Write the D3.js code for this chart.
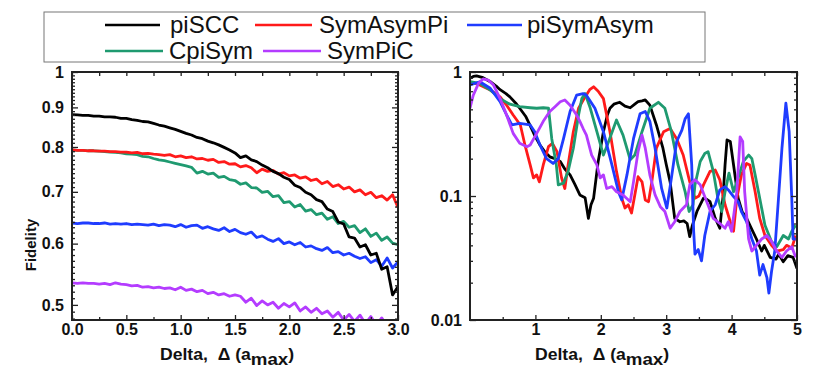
<!DOCTYPE html>
<html><head><meta charset="utf-8">
<script src="https://cdn.jsdelivr.net/npm/d3@7"></script>
<style>
body{margin:0;background:#fff;}
svg{display:block;font-family:"Liberation Sans",Arial,sans-serif;}
.tick text{font-weight:bold;font-size:16px;fill:#111;}
</style>
</head><body><svg id="c" width="817" height="382"></svg>
<script>
// ---------- data ----------
const seriesNames  = ["piSCC","SymAsymPi","piSymAsym","CpiSym","SymPiC"];
const seriesColors = ["#000000","#ff1a1a","#1f3cff","#1f9a70","#b43cff"];

// left panel: Fidelity vs Delta (0..3, step 0.05)
const leftDelta = d3.range(0, 3.0001, 0.05);
const leftPiSCC = [.881,.880,.879,.879,.877,.877,.875,.875,.874,.871,.871,.868,.866,.863,.862,.858,.854,.851,.847,.843,
  .838,.833,.829,.823,.820,.814,.810,.805,.799,.793,.786,.775,.779,.770,.766,.758,.752,.744,.739,.731,
  .726,.714,.709,.699,.694,.684,.680,.665,.660,.640,.636,.612,.610,.594,.598,.580,.583,.556,.560,.515,.528];
const leftSymAsymPi = [.793,.792,.792,.791,.791,.790,.790,.789,.789,.788,.788,.786,.787,.784,.785,.783,.782,.780,.782,.777,
  .779,.775,.777,.772,.773,.769,.771,.764,.766,.760,.761,.754,.757,.752,.741,.749,.744,.746,.738,.741,
  .734,.736,.729,.732,.724,.727,.717,.722,.711,.715,.706,.710,.700,.704,.694,.699,.688,.692,.683,.694,.668];
const leftPiSymAsym = [.638,.637,.638,.638,.637,.637,.638,.636,.637,.636,.637,.635,.636,.635,.634,.636,.633,.635,.634,.631,
  .635,.630,.633,.634,.628,.631,.627,.624,.629,.622,.626,.620,.617,.621,.611,.614,.608,.604,.609,.600,
  .603,.598,.602,.594,.596,.591,.588,.593,.584,.586,.580,.583,.578,.574,.577,.567,.572,.561,.575,.558,.568];
const leftCpiSym = [.793,.792,.792,.791,.791,.790,.789,.788,.787,.786,.784,.783,.782,.778,.777,.773,.770,.768,.765,.762,
  .759,.756,.753,.740,.744,.738,.740,.731,.733,.726,.724,.716,.719,.709,.708,.699,.701,.690,.692,.678,
  .680,.669,.674,.661,.664,.654,.657,.645,.650,.637,.641,.630,.633,.620,.627,.613,.619,.606,.612,.601,.598];
const leftSymPiC = [.534,.533,.534,.533,.533,.532,.533,.531,.534,.532,.531,.529,.530,.527,.528,.526,.527,.525,.526,.523,
  .527,.522,.524,.520,.522,.517,.519,.515,.517,.513,.515,.513,.504,.510,.499,.506,.500,.504,.495,.502,
  .497,.503,.491,.497,.489,.495,.487,.491,.482,.489,.478,.486,.476,.485,.473,.483,.471,.481,.470];

// right panel: [Delta, Fidelity] read points
const rightPiSCC = [[0,0.89],[0.05,0.92],[0.1,0.93],[0.2,0.9],[0.31,0.835],[0.4,0.77],[0.46,0.72],[0.55,0.67],[0.61,0.63],[0.7,0.56],[0.76,0.51],[0.85,0.44],[0.92,0.37],[1.0,0.3],[1.07,0.258],[1.15,0.225],[1.22,0.207],[1.3,0.2],[1.38,0.19],[1.45,0.165],[1.53,0.148],[1.6,0.125],[1.68,0.102],[1.76,0.097],[1.81,0.066],[1.85,0.085],[1.89,0.096],[1.96,0.19],[2.04,0.33],[2.1,0.45],[2.14,0.51],[2.2,0.55],[2.29,0.57],[2.37,0.53],[2.45,0.515],[2.52,0.55],[2.57,0.576],[2.63,0.585],[2.68,0.595],[2.75,0.54],[2.85,0.374],[2.95,0.243],[3.0,0.18],[3.06,0.13],[3.13,0.066],[3.21,0.062],[3.27,0.063],[3.32,0.06],[3.36,0.047],[3.4,0.058],[3.47,0.075],[3.57,0.096],[3.62,0.094],[3.67,0.09],[3.75,0.066],[3.82,0.055],[3.87,0.1],[3.9,0.178],[3.93,0.283],[3.98,0.275],[4.03,0.178],[4.1,0.096],[4.16,0.075],[4.23,0.066],[4.3,0.055],[4.38,0.045],[4.46,0.036],[4.5,0.04],[4.59,0.032],[4.68,0.031],[4.72,0.034],[4.79,0.0295],[4.86,0.033],[4.94,0.032],[5.0,0.026]];
const rightSymAsymPi = [[0,0.835],[0.15,0.785],[0.31,0.716],[0.46,0.63],[0.56,0.54],[0.66,0.45],[0.77,0.374],[0.84,0.258],[0.92,0.178],[0.97,0.14],[1.02,0.148],[1.06,0.13],[1.12,0.178],[1.2,0.25],[1.26,0.266],[1.33,0.228],[1.4,0.14],[1.45,0.115],[1.5,0.178],[1.58,0.33],[1.66,0.51],[1.76,0.63],[1.83,0.72],[1.89,0.76],[1.96,0.7],[2.04,0.61],[2.14,0.33],[2.24,0.158],[2.32,0.096],[2.37,0.08],[2.42,0.085],[2.47,0.073],[2.52,0.102],[2.57,0.143],[2.63,0.13],[2.68,0.093],[2.73,0.09],[2.78,0.13],[2.85,0.243],[2.96,0.33],[3.06,0.35],[3.16,0.29],[3.26,0.214],[3.36,0.13],[3.44,0.096],[3.5,0.1],[3.57,0.123],[3.67,0.158],[3.75,0.162],[3.82,0.135],[3.9,0.085],[3.98,0.062],[4.03,0.052],[4.08,0.096],[4.15,0.148],[4.23,0.183],[4.28,0.178],[4.36,0.108],[4.43,0.066],[4.51,0.048],[4.61,0.04],[4.69,0.036],[4.79,0.037],[4.84,0.04],[4.92,0.038],[4.98,0.048]];
const rightPiSymAsym = [[0,0.785],[0.15,0.835],[0.31,0.74],[0.46,0.576],[0.56,0.45],[0.64,0.374],[0.76,0.385],[0.92,0.374],[0.99,0.33],[1.07,0.258],[1.17,0.2],[1.27,0.183],[1.35,0.2],[1.43,0.29],[1.53,0.48],[1.63,0.65],[1.73,0.67],[1.78,0.65],[1.91,0.51],[2.04,0.33],[2.17,0.178],[2.27,0.108],[2.32,0.093],[2.4,0.148],[2.5,0.29],[2.6,0.46],[2.68,0.48],[2.75,0.4],[2.83,0.243],[2.93,0.115],[3.01,0.08],[3.08,0.14],[3.16,0.275],[3.24,0.34],[3.29,0.42],[3.34,0.46],[3.39,0.178],[3.42,0.052],[3.44,0.034],[3.49,0.037],[3.54,0.03],[3.59,0.048],[3.67,0.075],[3.75,0.085],[3.82,0.112],[3.9,0.119],[3.95,0.112],[4.03,0.099],[4.1,0.09],[4.15,0.075],[4.23,0.062],[4.31,0.045],[4.38,0.036],[4.43,0.023],[4.48,0.028],[4.54,0.022],[4.57,0.0165],[4.61,0.0245],[4.66,0.036],[4.71,0.085],[4.77,0.243],[4.83,0.56],[4.88,0.33],[4.92,0.096],[4.94,0.045],[4.98,0.045]];
const rightCpiSym = [[0,0.835],[0.15,0.81],[0.31,0.716],[0.46,0.61],[0.61,0.55],[0.76,0.525],[0.92,0.515],[1.02,0.51],[1.12,0.515],[1.2,0.51],[1.25,0.29],[1.32,0.178],[1.35,0.123],[1.43,0.127],[1.5,0.158],[1.58,0.243],[1.66,0.45],[1.71,0.61],[1.76,0.67],[1.84,0.51],[1.94,0.33],[2.04,0.214],[2.12,0.275],[2.24,0.41],[2.34,0.31],[2.45,0.196],[2.52,0.214],[2.63,0.33],[2.75,0.51],[2.88,0.57],[2.98,0.51],[3.08,0.33],[3.18,0.178],[3.29,0.108],[3.35,0.075],[3.41,0.085],[3.44,0.123],[3.52,0.19],[3.59,0.22],[3.64,0.228],[3.72,0.158],[3.79,0.096],[3.85,0.075],[3.9,0.108],[3.96,0.153],[4.03,0.108],[4.08,0.13],[4.18,0.19],[4.26,0.214],[4.31,0.2],[4.36,0.148],[4.43,0.096],[4.51,0.058],[4.61,0.043],[4.69,0.039],[4.79,0.048],[4.87,0.045],[4.92,0.052],[4.98,0.058]];
const rightSymPiC = [[0,0.51],[0.05,0.65],[0.13,0.81],[0.2,0.88],[0.28,0.86],[0.36,0.785],[0.46,0.61],[0.56,0.45],[0.66,0.32],[0.76,0.266],[0.87,0.25],[0.92,0.258],[1.02,0.32],[1.12,0.4],[1.22,0.48],[1.3,0.525],[1.38,0.576],[1.45,0.595],[1.53,0.54],[1.63,0.45],[1.68,0.4],[1.73,0.35],[1.78,0.31],[1.86,0.214],[1.94,0.178],[1.99,0.14],[2.04,0.148],[2.09,0.115],[2.17,0.119],[2.24,0.108],[2.34,0.102],[2.45,0.09],[2.5,0.13],[2.57,0.228],[2.63,0.31],[2.68,0.243],[2.75,0.148],[2.83,0.102],[2.91,0.082],[2.98,0.075],[3.06,0.055],[3.13,0.062],[3.21,0.075],[3.31,0.085],[3.36,0.123],[3.44,0.135],[3.52,0.123],[3.62,0.09],[3.72,0.066],[3.82,0.06],[3.9,0.055],[3.95,0.062],[4.0,0.052],[4.08,0.108],[4.13,0.3],[4.17,0.275],[4.2,0.108],[4.26,0.045],[4.31,0.036],[4.38,0.04],[4.46,0.045],[4.54,0.048],[4.61,0.043],[4.69,0.036],[4.77,0.032],[4.84,0.036],[4.92,0.039],[4.98,0.032]];

// ticks
const leftXTicks  = [0,0.5,1,1.5,2,2.5,3];
const leftXMinor  = [0.25,0.75,1.25,1.75,2.25,2.75];
const leftYTicks  = [0.5,0.6,0.7,0.8,0.9,1];
const leftYLabels = ["0.5","0.6","0.7","0.8","0.9","1"];
const rightXTicks = [1,2,3,4,5];
const rightXMinor = [0.5,1.5,2.5,3.5,4.5];
const rightYTicks = [0.01,0.1,1];
const rightYLabels = ["0.01","0.1","1"];

// ---------- drawing ----------
const svg = d3.select("#c");
const plotTop = 72, plotBottom = 320;
const xL = d3.scaleLinear([0,3],[72,398]);
const yL = d3.scaleLog([0.478,1],[plotBottom,plotTop]);
const xR = d3.scaleLinear([0,5],[470,797]);
const yR = d3.scaleLog([0.01,1],[plotBottom,plotTop]);

const leftSeries = [leftPiSCC,leftSymAsymPi,leftPiSymAsym,leftCpiSym,leftSymPiC];
const rightSeries = [rightPiSCC,rightSymAsymPi,rightPiSymAsym,rightCpiSym,rightSymPiC];

const defs = svg.append("defs");
function clip(id,x){
  defs.append("clipPath").attr("id",id).append("rect")
    .attr("x",x.range()[0]).attr("y",plotTop).attr("width",x.range()[1]-x.range()[0]).attr("height",plotBottom-plotTop);
}
clip("cl",xL); clip("cr",xR);

const gL = svg.append("g").attr("clip-path","url(#cl)");
const lineL = d3.line().x((d,i)=>xL(leftDelta[i])).y(d=>yL(d));
[4,2,3,1,0].forEach(k=>{
  gL.append("path").datum(leftSeries[k]).attr("d",lineL)
    .attr("fill","none").attr("stroke",seriesColors[k]).attr("stroke-width",2.8)
    .attr("stroke-linejoin","round");
});
const gR = svg.append("g").attr("clip-path","url(#cr)");
const lineR = d3.line().x(d=>xR(d[0])).y(d=>yR(d[1]));
[0,1,3,2,4].forEach(k=>{
  gR.append("path").datum(rightSeries[k]).attr("d",lineR)
    .attr("fill","none").attr("stroke",seriesColors[k]).attr("stroke-width",2.8)
    .attr("stroke-linejoin","round");
});

function styleAxis(g){
  g.select(".domain").remove();
  g.selectAll(".tick line").attr("stroke","#222").attr("stroke-width",1.3);
}
function axes(x,y,xt,xfmt,xm,yt,ylab,ym){
  const x0=x.range()[0], x1=x.range()[1];
  svg.append("g").attr("transform",`translate(0,${plotBottom})`)
    .call(d3.axisBottom(x).tickValues(xt).tickFormat(xfmt).tickSize(-5).tickPadding(4)).call(styleAxis);
  svg.append("g").attr("transform",`translate(0,${plotBottom})`)
    .call(d3.axisBottom(x).tickValues(xm).tickFormat("").tickSize(-3)).call(styleAxis);
  svg.append("g").attr("transform",`translate(0,${plotTop})`)
    .call(d3.axisTop(x).tickValues(xt.concat(xm)).tickFormat("").tickSize(-4)).call(styleAxis);
  svg.append("g").attr("transform",`translate(${x0},0)`)
    .call(d3.axisLeft(y).tickValues(yt).tickFormat((d,i)=>ylab[i]).tickSize(-6).tickPadding(8)).call(styleAxis);
  svg.append("g").attr("transform",`translate(${x0},0)`)
    .call(d3.axisLeft(y).tickValues(ym).tickFormat("").tickSize(-3)).call(styleAxis);
  svg.append("g").attr("transform",`translate(${x1},0)`)
    .call(d3.axisRight(y).tickValues(yt).tickFormat("").tickSize(-6)).call(styleAxis);
  svg.append("g").attr("transform",`translate(${x1},0)`)
    .call(d3.axisRight(y).tickValues(ym).tickFormat("").tickSize(-3)).call(styleAxis);
  svg.append("rect").attr("x",x0).attr("y",plotTop).attr("width",x1-x0).attr("height",plotBottom-plotTop)
    .attr("fill","none").attr("stroke","#222").attr("stroke-width",2);
}
const leftYMinor = d3.range(48,100).map(v=>v/100).filter(v=>Math.round(v*100)%10!==0);
const rightYMinor = [2,3,4,5,6,7,8,9].flatMap(m=>[m*0.01,m*0.1]);
axes(xL,yL,leftXTicks,d3.format(".1f"),leftXMinor,leftYTicks,leftYLabels,leftYMinor);
axes(xR,yR,rightXTicks,d3.format("d"),rightXMinor,rightYTicks,rightYLabels,rightYMinor);

// axis titles
function xTitle(xs){
  const t = svg.append("text").attr("transform",`translate(${xs},360) scale(1.1,1)`)
    .attr("font-size",16).attr("font-weight","bold").attr("fill","#111");
  t.append("tspan").text("Delta,\u00a0\u00a0\u0394 (a");
  t.append("tspan").attr("dy",5).attr("font-size",17).text("max");
  t.append("tspan").attr("dy",-5).text(")");
}
xTitle(160); xTitle(535);
svg.append("text").attr("transform","translate(36,245) rotate(-90)")
  .attr("text-anchor","middle").attr("font-size",15).attr("font-weight","bold").attr("fill","#111").text("Fidelity");

// legend
svg.append("rect").attr("x",44).attr("y",12).attr("width",661).attr("height",50)
  .attr("fill","#fff").attr("stroke","#777").attr("stroke-width",1);
const legendPos = [[105,160,170,25],[255,312,319,25],[467,522,527,25],[105,163,169,51],[263,321,327,51]];
seriesNames.forEach((n,i)=>{
  const p = legendPos[i];
  svg.append("line").attr("x1",p[0]).attr("x2",p[1]).attr("y1",p[3]).attr("y2",p[3])
    .attr("stroke",seriesColors[i]).attr("stroke-width",2.5);
  svg.append("text").attr("x",p[2]).attr("y",p[3]).attr("dy","0.35em")
    .attr("font-size",24).attr("fill","#111").text(n);
});
</script></body></html>
